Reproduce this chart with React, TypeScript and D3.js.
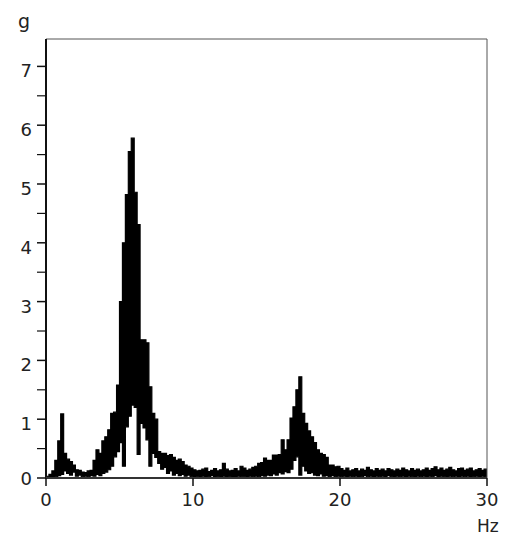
import React from "react";
import * as d3 from "d3";

// Spectrum envelope, one entry per 0.2 Hz bin (0 .. 29.8 Hz), in g
const binWidth = 0.2;
const upper = [
  0.03, 0.06, 0.12, 0.3, 0.63, 1.09, 0.42, 0.32, 0.28, 0.22,
  0.14, 0.13, 0.1, 0.09, 0.12, 0.13, 0.3, 0.48, 0.42, 0.63,
  0.7, 0.82, 1.1, 1.12, 1.58, 3.0, 4.0, 4.82, 5.55, 5.78,
  4.86, 4.31, 2.35, 2.35, 2.3, 1.55, 1.1, 1.0, 0.45, 0.42,
  0.42, 0.38, 0.4, 0.35, 0.3, 0.32, 0.28, 0.22, 0.2, 0.17,
  0.14, 0.12, 0.13, 0.15, 0.17, 0.11, 0.13, 0.16, 0.12, 0.14,
  0.25, 0.15, 0.12, 0.13, 0.16, 0.12, 0.2, 0.17, 0.13, 0.15,
  0.18, 0.2, 0.25, 0.26, 0.34, 0.3, 0.3, 0.39, 0.39, 0.4,
  0.65, 0.48, 0.65, 1.02, 1.21, 1.5, 1.72, 1.1, 0.93, 0.8,
  0.7, 0.6, 0.48, 0.42, 0.4, 0.35, 0.22, 0.22, 0.19, 0.2,
  0.16, 0.13, 0.17, 0.12, 0.14, 0.16, 0.12, 0.15, 0.13, 0.18,
  0.14, 0.12, 0.16, 0.13, 0.15, 0.12, 0.16, 0.14, 0.12, 0.15,
  0.13, 0.17, 0.14, 0.12, 0.16, 0.13, 0.15, 0.12, 0.14, 0.17,
  0.13, 0.16, 0.19, 0.14, 0.17, 0.13, 0.15, 0.18, 0.14, 0.12,
  0.16, 0.17, 0.13, 0.15, 0.17, 0.12, 0.14, 0.16, 0.13, 0.15,
];
const lower = [
  0, 0, 0.01, 0.02, 0.04, 0.06, 0.12, 0.08, 0.05, 0.1,
  0.03, 0.05, 0.02, 0.03, 0.02, 0.04, 0.03, 0.06, 0.04, 0.08,
  0.1, 0.14, 0.2, 0.36, 0.45, 0.6, 0.2, 0.87, 1.05, 1.24,
  1.2, 0.4, 0.93, 0.85, 0.65, 0.2, 0.42, 0.35, 0.25, 0.15,
  0.18, 0.08, 0.12, 0.05, 0.08, 0.04, 0.06, 0.03, 0.05, 0.02,
  0.01, 0.02, 0.01, 0.03, 0.01, 0.02, 0.04, 0.01, 0.02, 0.01,
  0.03, 0.01, 0.02, 0.01, 0.01, 0.03, 0.02, 0.02, 0.01, 0.03,
  0.02, 0.03, 0.02, 0.04, 0.03, 0.05, 0.04, 0.07, 0.05, 0.09,
  0.07, 0.11, 0.09, 0.15, 0.3, 0.36, 0.05, 0.2, 0.12, 0.08,
  0.09, 0.05, 0.04, 0.07, 0.03, 0.04, 0.02, 0.04, 0.02, 0.03,
  0.02, 0.03, 0.01, 0.03, 0.02, 0.03, 0.01, 0.02, 0.04, 0.02,
  0.03, 0.01, 0.03, 0.02, 0.03, 0.01, 0.04, 0.02, 0.01, 0.03,
  0.02, 0.03, 0.01, 0.03, 0.02, 0.01, 0.03, 0.02, 0.03, 0.01,
  0.03, 0.02, 0.04, 0.01, 0.03, 0.02, 0.01, 0.03, 0.02, 0.03,
  0.01, 0.03, 0.02, 0.03, 0.01, 0.02, 0.03, 0.01, 0.03, 0.02,
];

const xTicks = [0, 10, 20, 30];
const yTicks = [0, 1, 2, 3, 4, 5, 6, 7];
const yMinorTicks = [0.5, 1.5, 2.5, 3.5, 4.5, 5.5, 6.5];
const xUnit = "Hz";
const yUnit = "g";

const W = 513;
const H = 550;
const left = 46;
const right = 487;
const top = 39;
const bottom = 478;
const xMax = 30;
const yMax = 7.466;
const font = "'DejaVu Sans', Verdana, sans-serif";
const textColor = "#222";

export default function App() {
  const x = d3.scaleLinear().domain([0, xMax]).range([left, right]);
  const y = d3.scaleLinear().domain([0, yMax]).range([bottom, top]);

  const pts = upper.map((u, i) => ({ f: i * binWidth, hi: u, lo: lower[i] }));
  pts.push({ f: xMax, hi: upper[upper.length - 1], lo: lower[lower.length - 1] });

  const area = d3
    .area<{ f: number; hi: number; lo: number }>()
    .x((d) => x(d.f))
    .y0((d) => y(d.lo))
    .y1((d) => y(d.hi))
    .curve(d3.curveStepAfter);

  return (
    <svg
      width={W}
      height={H}
      style={{ position: "absolute", left: 0, top: 0, background: "#fff" }}
    >
      <rect x={0} y={0} width={W} height={H} fill="#fff" />
      <defs>
        <clipPath id="plot">
          <rect x={left} y={top} width={right - left} height={bottom - top} />
        </clipPath>
      </defs>
      <path
        d={area(pts) || ""}
        fill="#000"
        stroke="#000"
        strokeWidth={1.2}
        clipPath="url(#plot)"
      />
      {/* frame */}
      <line x1={left} x2={right} y1={top} y2={top} stroke="#555" strokeWidth={1} />
      <line x1={right} x2={right} y1={top} y2={bottom} stroke="#555" strokeWidth={1} />
      <line x1={left} x2={left} y1={top} y2={bottom + 1} stroke="#111" strokeWidth={2} />
      <line x1={left - 1} x2={right} y1={bottom} y2={bottom} stroke="#333" strokeWidth={2} />
      {/* y ticks */}
      {yTicks.map((t) => (
        <line key={"yt" + t} x1={left - 9} x2={left} y1={y(t)} y2={y(t)} stroke="#111" strokeWidth={1.5} />
      ))}
      {yMinorTicks.map((t) => (
        <line key={"ym" + t} x1={left - 9} x2={left} y1={y(t)} y2={y(t)} stroke="#111" strokeWidth={1.2} />
      ))}
      {yTicks.map((t) => (
        <text
          key={"yl" + t}
          x={32}
          y={t === 0 ? y(t) : y(t) + 4.5}
          textAnchor="end"
          dominantBaseline="central"
          fontFamily={font}
          fontSize={18}
          fill={textColor}
        >
          {t}
        </text>
      ))}
      {/* x ticks */}
      {xTicks.map((t) => (
        <line key={"xt" + t} x1={x(t)} x2={x(t)} y1={bottom} y2={bottom + 8} stroke="#111" strokeWidth={1.5} />
      ))}
      {xTicks.map((t) => (
        <text
          key={"xl" + t}
          x={x(t)}
          y={506}
          textAnchor="middle"
          fontFamily={font}
          fontSize={18}
          fill={textColor}
        >
          {t}
        </text>
      ))}
      <text x={18} y={28} fontFamily={font} fontSize={19} fill={textColor}>
        {yUnit}
      </text>
      <text x={477} y={532} fontFamily={font} fontSize={17} fill={textColor}>
        {xUnit}
      </text>
    </svg>
  );
}
